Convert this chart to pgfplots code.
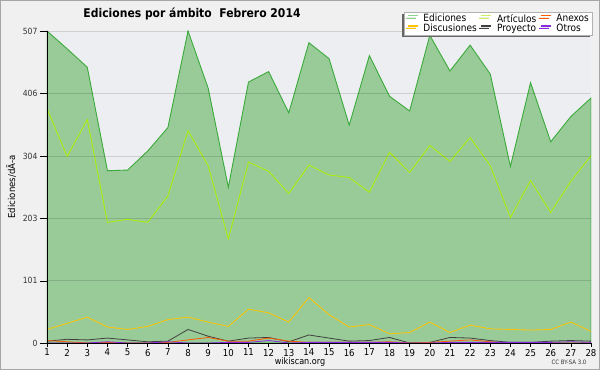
\documentclass[border=0pt]{standalone}
\usepackage{fontspec}
\setmainfont{DejaVu Sans}[FakeStretch=0.9]
\usepackage{pgfplots}
\usepackage{pgfplotstable}
\pgfplotsset{compat=1.18}
\usetikzlibrary{shadows}
\definecolor{outerbg}{HTML}{F0F0F0}
\definecolor{plotbg}{HTML}{EDEEF1}
\definecolor{edfill}{HTML}{99CB99}
\definecolor{edline}{HTML}{3AAA3A}
\definecolor{edleg}{HTML}{8ED48E}
\definecolor{art}{HTML}{AEF000}
\definecolor{artleg}{HTML}{CCF060}
\definecolor{anex}{HTML}{FF5A00}
\definecolor{disc}{HTML}{FFC400}
\definecolor{proy}{HTML}{404040}
\definecolor{otros}{HTML}{8A2BE2}
\pgfplotstableread{
day ed art anex disc proy otros
1 507 381 4 22 3 0
2 478 303 2 32 6 0
3 448 363 0 42 5 0
4 280 196 1 26 8 2
5 281 201 0 22 5 0
6 312 196 0 27 2 0
7 350 239 1 38 3 2
8 507 345 5 42 22 0
9 414 288 9 34 11 0
10 253 169 3 27 3 1
11 424 294 3 55 8 1
12 441 279 8 49 9 4
13 374 243 3 34 2 0
14 488 289 1 74 13 1
15 462 273 1 46 8 1
16 354 269 1 26 3 1
17 467 245 1 30 4 1
18 401 310 2 15 9 1
19 377 277 0 17 0 0
20 500 321 1 34 1 0
21 442 295 3 17 9 1
22 484 334 5 29 8 1
23 437 288 2 23 4 1
24 287 204 0 22 1 1
25 423 264 0 21 1 1
26 327 212 0 22 3 1
27 368 263 0 34 4 2
28 398 304 0 19 3 1
}\data
\begin{document}
\begin{tikzpicture}
\useasboundingbox (0,0) rectangle (600pt,370pt);
\fill[outerbg] (0,0) rectangle (600pt,370pt);
\draw[black!35, line width=1pt] (0.5pt,0.5pt) rectangle (599.5pt,369.5pt);
\begin{axis}[
  at={(47pt,27pt)}, anchor=south west,
  scale only axis, width=544pt, height=312pt,
  xmin=1, xmax=28, ymin=0, ymax=507,
  axis background/.style={fill=plotbg},
  axis x line*=bottom, axis y line*=left,
  axis line style={-, black, line width=0.8pt},
  xtick={1,...,28}, ytick={0,101,203,304,406,507},
  minor y tick num=3,
  ymajorgrids, grid style={black, opacity=0.13, line width=0.8pt},
  tick align=outside, major tick length=7pt, minor tick length=4pt,
  xtick style={/pgfplots/major tick length=4pt},
  tick style={black, line width=0.6pt},
  axis on top,
  /pgf/number format/assume math mode=true,
  yticklabel style={font=\fontsize{8.5}{9}\selectfont, text=black!80, xshift=1pt},
  xticklabel style={font=\fontsize{9.5}{10}\selectfont, yshift=4.5pt},
  ylabel={Ediciones/dÃ-a},
  ylabel style={font=\fontsize{9.5}{10}\selectfont, at={(axis description cs:-0.066,0.5)}, anchor=center},
  legend columns=3,
  legend cell align=left,
  legend image code/.code={\draw[#1, line width=1.2pt] (0pt,3pt) -- (10pt,3pt);},
  legend style={at={(axis description cs:1.003,1.061)}, anchor=north east,
    draw=black!30, fill=white, font=\fontsize{10}{9}\selectfont,
    inner xsep=3.5pt, inner ysep=1.5pt, row sep=0pt,
    nodes={inner xsep=0pt, inner ysep=0.4pt},
    drop shadow={shadow xshift=-2pt, shadow yshift=-2pt, fill=black!60, opacity=1},
    /tikz/every odd column/.append style={column sep=5pt},
    /tikz/every even column/.append style={column sep=4pt}},
]
\addlegendimage{edleg}
\addlegendentry{Ediciones}
\addlegendimage{artleg}
\addlegendentry{Artículos}
\addlegendimage{anex}
\addlegendentry{Anexos}
\addlegendimage{disc}
\addlegendentry{Discusiones}
\addlegendimage{proy}
\addlegendentry{Proyecto}
\addlegendimage{otros}
\addlegendentry{Otros}
\addplot[draw=edline, fill=edfill, line width=0.9pt, forget plot] table[x=day, y=ed] {\data} \closedcycle;
\addplot[art, line width=0.8pt, forget plot] table[x=day, y=art] {\data};
\addplot[disc, line width=0.8pt, forget plot] table[x=day, y=disc] {\data};
\addplot[proy, line width=0.8pt, forget plot] table[x=day, y=proy] {\data};
\addplot[anex, line width=0.8pt, forget plot] table[x=day, y=anex] {\data};
\addplot[otros, line width=0.8pt, forget plot] table[x=day, y=otros] {\data};
\end{axis}
\node[font=\bfseries\fontsize{12}{13}\selectfont] at (192pt,356pt) {Ediciones por ámbito\ \ Febrero 2014};
\node[font=\fontsize{9}{10}\selectfont] at (300pt,8pt) {wikiscan.org};
\node[font=\fontsize{6}{7}\selectfont, text=black!80] at (569pt,8pt) {CC BY-SA 3.0};
\end{tikzpicture}
\end{document}
